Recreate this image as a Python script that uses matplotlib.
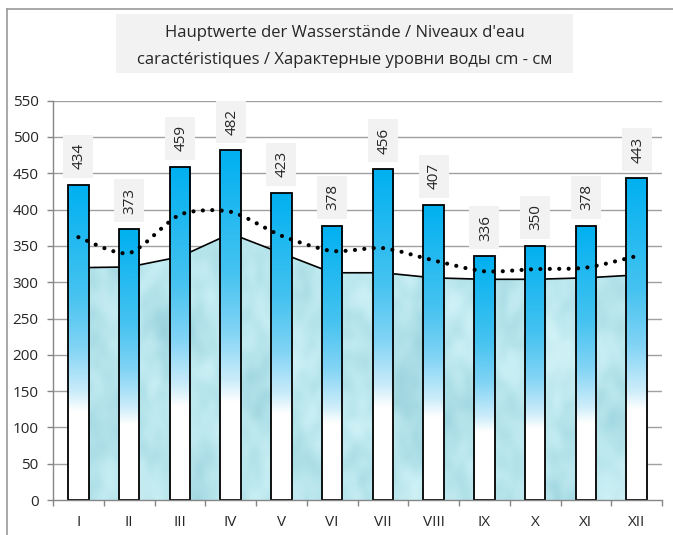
import numpy as np
import matplotlib
matplotlib.use("Agg")
import matplotlib.pyplot as plt
from matplotlib.patches import Rectangle, PathPatch
from matplotlib.path import Path
from matplotlib.colors import LinearSegmentedColormap
from matplotlib.lines import Line2D
from matplotlib.transforms import ScaledTranslation

plt.rcParams['font.family'] = ['Open Sans', 'DejaVu Sans']

# data
months = ['I', 'II', 'III', 'IV', 'V', 'VI', 'VII', 'VIII', 'IX', 'X', 'XI', 'XII']
max_levels = [434, 373, 459, 482, 423, 378, 456, 407, 336, 350, 378, 443]
mean_levels = [362, 340, 393, 397, 364, 343, 347, 330, 315, 318, 320, 336]
min_levels = [320, 321, 335, 367, 340, 313, 313, 306, 304, 304, 306, 310]
yticks = [0, 50, 100, 150, 200, 250, 300, 350, 400, 450, 500, 550]
title = "Hauptwerte der Wasserstände / Niveaux d'eau\ncaractéristiques / Характерные уровни воды cm - см"

W, H = 673, 535
fig = plt.figure(figsize=(W / 100, H / 100), dpi=100)
ax = fig.add_axes([53 / W, (H - 500) / H, (662 - 53) / W, (500 - 100.7) / H])

x = np.arange(len(months))
ax.set_xlim(-0.5, len(months) - 0.5)
ax.set_ylim(0, 550)

# outer frame (cropped in the original)
fig.add_artist(Line2D([7 / W, 7 / W], [0, 1 - 9 / H], color='#9a9a9a', lw=1.2))
fig.add_artist(Line2D([7 / W, 1], [1 - 9 / H, 1 - 9 / H], color='#9a9a9a', lw=1.2))

# title box
fig.add_artist(Rectangle((116 / W, 1 - 73 / H), (573 - 116) / W, 59 / H,
                         transform=fig.transFigure, facecolor='#f2f2f2', edgecolor='none'))
fig.text(344.5 / W, 1 - 46.5 / H, title, ha='center', va='center', fontsize=12,
         linespacing=1.95, color='#262626')

# grid
for v in yticks[1:]:
    ax.axhline(v, color='#a0a0a0', lw=1.0, zorder=0.5)

# area with a water-like texture (smooth blobs + finer speckle)
water = LinearSegmentedColormap.from_list('water', ['#86c4d1', '#aadde6', '#c8eff4', '#e4f9fb'])
rng = np.random.default_rng(11)
coarse = rng.random((14, 30))
fine = rng.random((40, 90))
area = ax.fill_between(x, 0, min_levels, facecolor='none', edgecolor='none', zorder=1)
clip = area.get_paths()[0]
tex = ax.imshow(coarse, cmap=water, extent=[-0.5, 11.5, 0, 550], aspect='auto',
                interpolation='bicubic', vmin=-0.1, vmax=1.1, zorder=1)
tex.set_clip_path(clip, transform=ax.transData)
tex2 = ax.imshow(fine, cmap=water, extent=[-0.5, 11.5, 0, 550], aspect='auto',
                 interpolation='bicubic', vmin=0, vmax=1, alpha=0.35, zorder=1.05)
tex2.set_clip_path(clip, transform=ax.transData)
ax.plot(x, min_levels, color='black', lw=1.2, zorder=1.5)

# bars with vertical gradient (top blue -> white at ~70 % of height)
bar_w = 0.4
stops_f = [0.0, 0.35, 0.52, 0.66, 0.72, 1.0]
stops_c = np.array([[0, 176, 240], [70, 195, 240], [130, 212, 245],
                    [205, 237, 250], [255, 255, 255], [255, 255, 255]]) / 255
f = np.linspace(0, 1, 300)
grad = np.stack([np.interp(f, stops_f, stops_c[:, k]) for k in range(3)], axis=1)
grad_img = np.repeat(grad[:, None, :], 2, axis=1)
for xi, h in zip(x, max_levels):
    rect = Rectangle((xi - bar_w / 2, 0), bar_w, h, facecolor='none',
                     edgecolor='black', lw=1.3, zorder=2.1)
    ax.add_patch(rect)
    im = ax.imshow(grad_img, extent=[xi - bar_w / 2, xi + bar_w / 2, 0, h], aspect='auto',
                   interpolation='bilinear', zorder=2)
    im.set_clip_path(rect)
    # label box, sizes in inches anchored at the bar top
    anchor = fig.dpi_scale_trans + ScaledTranslation(xi, h, ax.transData)
    ax.add_patch(Rectangle((-0.15, 0.07), 0.30, 0.43, transform=anchor,
                           facecolor='#f2f2f2', edgecolor='none', zorder=4))
    ax.text(0.01, 0.285, str(h), transform=anchor, rotation=90, ha='center', va='center',
            fontsize=11, color='#262626', zorder=5)

# smoothed dotted line (cubic Bezier through the points)
px = np.array(x, dtype=float)
py = np.array(mean_levels, dtype=float)
k = 1 / 8
verts = [(px[0], py[0])]
codes = [Path.MOVETO]
n = len(px)
for i in range(n - 1):
    p0 = (px[max(i - 1, 0)], py[max(i - 1, 0)])
    p1 = (px[i], py[i])
    p2 = (px[i + 1], py[i + 1])
    p3 = (px[min(i + 2, n - 1)], py[min(i + 2, n - 1)])
    c1 = (p1[0] + (p2[0] - p0[0]) * k, p1[1] + (p2[1] - p0[1]) * k)
    c2 = (p2[0] - (p3[0] - p1[0]) * k, p2[1] - (p3[1] - p1[1]) * k)
    verts += [c1, c2, p2]
    codes += [Path.CURVE4] * 3
smooth = PathPatch(Path(verts, codes), facecolor='none', edgecolor='black',
                   lw=3.0, linestyle=(0, (0.01, 2.25)), capstyle='round', zorder=3)
ax.add_patch(smooth)

# axes styling
for s in ['top', 'right']:
    ax.spines[s].set_visible(False)
for s in ['left', 'bottom']:
    ax.spines[s].set_color('#868686')
    ax.spines[s].set_linewidth(1.0)
ax.set_yticks(yticks)
ax.tick_params(axis='y', length=4.3, width=1, color='#868686', pad=6,
               labelsize=11, labelcolor='#262626')
ax.set_xticks(x)
ax.set_xticklabels(months)
ax.set_xticks(np.arange(-0.5, len(months)), minor=True)
ax.tick_params(axis='x', which='major', length=0, pad=11, labelsize=11, labelcolor='#262626')
ax.tick_params(axis='x', which='minor', length=4.3, width=1, color='#868686')

fig.savefig('out.png', dpi=100)
